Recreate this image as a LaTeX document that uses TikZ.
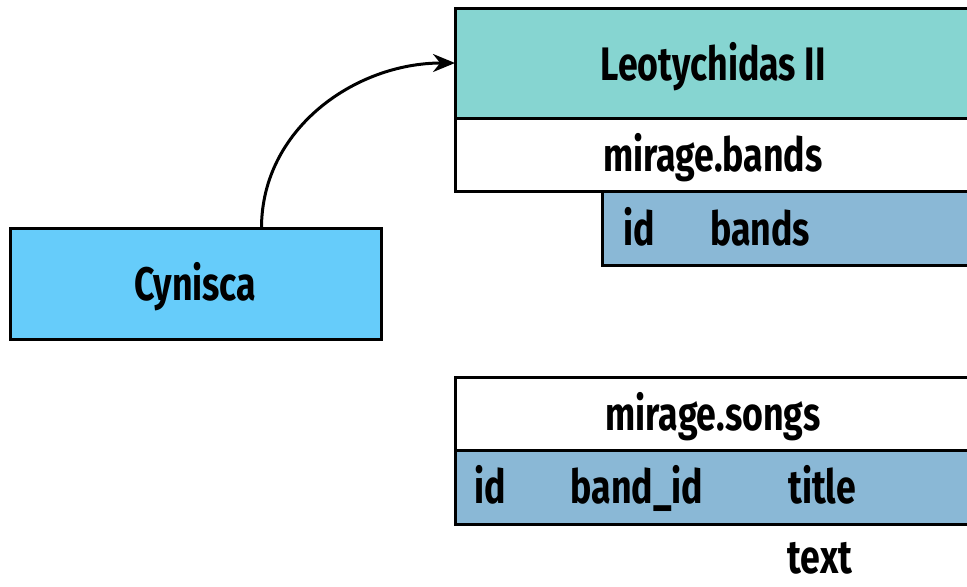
\documentclass[tikz,border=0pt]{standalone}
\usepackage{fontspec}
\setmainfont{Fira Sans}[FakeStretch=0.76]
\usepackage{xcolor}
\usepackage{tikz}
\usetikzlibrary{arrows.meta,positioning,calc}
\definecolor{ownerteal}{RGB}{134,213,209}
\definecolor{rolecyan}{RGB}{102,204,250}
\definecolor{colblue}{RGB}{138,184,214}

\begin{document}
\begin{tikzpicture}[x=0.5pt,y=-0.5pt,>={Stealth[length=11pt,width=9pt]},
    box/.style={draw,line width=1.5pt,outer sep=0pt,inner sep=0pt,
                text height=17pt,text depth=0pt,
                font=\fontsize{23.5}{26}\selectfont\bfseries},
    head/.style={box,fill=ownerteal,minimum width=258pt,minimum height=55pt},
    tbl/.style={box,fill=white,minimum width=258pt,minimum height=36.5pt},
    cols/.style={box,fill=colblue,minimum height=37pt},
    lbl/.style={font=\fontsize{23.5}{26}\selectfont\bfseries,inner sep=0pt,anchor=base}]
  % page frame; the tables run off the right edge
  \useasboundingbox (0,0) rectangle (967,586);
  \clip (0,0) rectangle (967,586);
  % role on the left
  \node[box,fill=rolecyan,minimum width=185.5pt,minimum height=55.5pt] (cyn) at (195.5,283.5) {Cynisca};
  % owner with its table mirage.bands
  \node[head] (leo) at (713,63) {Leotychidas II};
  \node[tbl,below=0pt of leo] (bands) {mirage.bands};
  \node[cols,minimum width=184.5pt,anchor=north east] (bcols) at (bands.south east) {};
  \node[lbl] (bid) at (639,245) {id};
  \node[lbl] (bname) at (760,245) {bands};
  % table mirage.songs
  \node[tbl] (songs) at (713,413.5) {mirage.songs};
  \node[cols,minimum width=258pt,below=0pt of songs] (scols) {};
  \node[lbl] (sid) at (490,503) {id};
  \node[lbl] (sband) at (637,503) {band\_id};
  \node[lbl] (stitle) at (822,503) {title};
  \node[lbl] (stype) at (820,573) {text};
  % membership arrow
  \draw[->,line width=1.5pt] ([xshift=33pt]cyn.north) to[out=90,in=180] (leo.west);
\end{tikzpicture}
\end{document}
